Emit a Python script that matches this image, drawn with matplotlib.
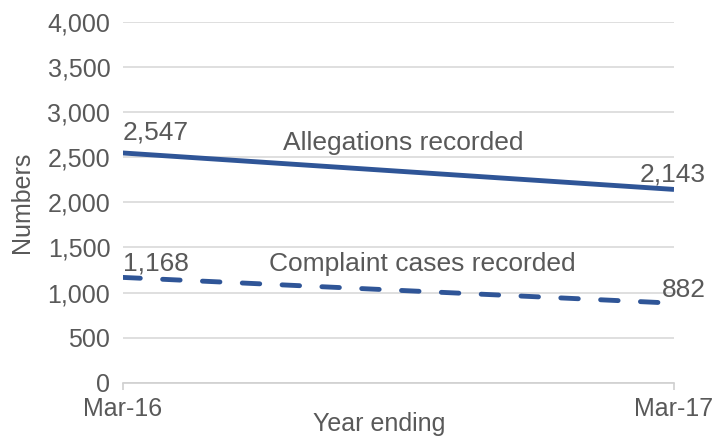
import numpy as np
import matplotlib.pyplot as plt

plt.rcParams['font.family'] = ['Liberation Sans', 'DejaVu Sans']

# Data
years = ['Mar-16', 'Mar-17']
allegations = [2547, 2143]
complaints = [1168, 882]

blue = '#2F5597'
grey_text = '#595959'
fs = 18
fs_lab = 19

fig = plt.figure(figsize=(7.14, 4.37), dpi=100)
ax = fig.add_axes([0.172, 0.124, 0.772, 0.826])

x = np.arange(len(years))
ax.plot(x, allegations, color=blue, linewidth=3.5, solid_capstyle='butt')
ax.plot(x, complaints, color=blue, linewidth=3.5, linestyle=(0, (3.6, 4.6)),
        dash_capstyle='round')

ax.set_xlim(0, 1)
ax.set_ylim(0, 4000)
ax.set_yticks(np.arange(0, 4001, 500))
ax.set_yticklabels([f'{v:,}' for v in range(0, 4001, 500)])
ax.set_xticks(x)
ax.set_xticklabels(years)
ax.yaxis.grid(True, color='#D9D9D9', linewidth=1.2)
ax.set_axisbelow(True)

for s in ['top', 'right', 'left']:
    ax.spines[s].set_visible(False)
ax.spines['bottom'].set_color('#D0D0D0')
ax.spines['bottom'].set_linewidth(1.2)
ax.tick_params(axis='y', length=0, labelsize=fs, labelcolor=grey_text, pad=9)
ax.tick_params(axis='x', length=5, color='#D0D0D0', width=1.2,
               labelsize=fs, labelcolor=grey_text, pad=5)

ax.set_ylabel('Numbers', fontsize=fs, color=grey_text, va='center')
ax.yaxis.set_label_coords(-0.183, 0.5)
ax.set_xlabel('Year ending', fontsize=fs, color=grey_text, va='center')
ax.xaxis.set_label_coords(0.466, -0.114)

# value labels
ax.text(x[0], 2770, f'{allegations[0]:,}', fontsize=fs_lab, color=grey_text,
        ha='left', va='center')
ax.annotate(f'{allegations[1]:,}', (x[1], 2305), xytext=(23, 0),
            textcoords='offset points', fontsize=fs_lab, color=grey_text,
            ha='right', va='center')
ax.text(x[0], 1319, f'{complaints[0]:,}', fontsize=fs_lab, color=grey_text,
        ha='left', va='center')
ax.annotate(f'{complaints[1]:,}', (x[1], 1030), xytext=(23, 0),
            textcoords='offset points', fontsize=fs_lab, color=grey_text,
            ha='right', va='center')

ax.text(0.508, 2659, 'Allegations recorded', fontsize=fs_lab, color=grey_text,
        ha='center', va='center')
ax.text(0.544, 1319, 'Complaint cases recorded', fontsize=fs_lab,
        color=grey_text, ha='center', va='center')

fig.savefig('out.png', dpi=100)
